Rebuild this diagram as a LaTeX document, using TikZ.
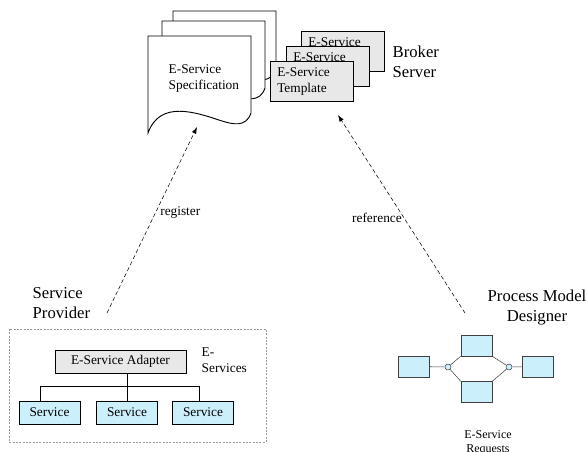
\documentclass[tikz,border=0pt]{standalone}
\usepackage{fontspec}
\setmainfont{Liberation Serif}
\usetikzlibrary{calc,arrows.meta}

\begin{document}
\begin{tikzpicture}[x=0.75pt,y=-0.75pt,font=\fontsize{10}{12}\selectfont,
    sheet/.style={draw,fill=white,line width=0.7pt},
    template/.style={draw,fill=black!9,anchor=north west,minimum width=62.25pt,
        minimum height=30pt,text width=51.75pt,inner xsep=5.25pt,align=left},
    adapter/.style={draw,fill=black!9,minimum width=98.25pt,minimum height=17.25pt,inner sep=0pt},
    service/.style={draw,fill=cyan!20,minimum width=45.75pt,minimum height=17.25pt,inner sep=0pt},
    activity/.style={draw=black!75,fill=cyan!20,minimum width=23.25pt,minimum height=15.75pt,inner sep=0pt},
    joint/.style={circle,draw=black!75,fill=cyan!20,minimum size=4.5pt,inner sep=0pt},
    flow/.style={densely dashed,-{Latex[length=5pt,width=3.5pt]},line width=0.4pt},
    big/.style={font=\fontsize{12.5}{15}\selectfont}]
        \useasboundingbox (0,0) rectangle (587,451);
            \foreach \X/\Y/\H in {173/11/58,162/21/67,148/36/77}
                {\path[sheet] (\X,\Y) -- ({\X+103},\Y) -- ({\X+103},{\Y+\H})
            .. controls ({\X+98},{\Y+\H+15}) and ({\X+84},{\Y+\H+11}) .. ({\X+74},{\Y+\H+8})
            .. controls ({\X+47},{\Y+\H-1}) and ({\X+12},{\Y+\H-13}) .. (\X,{\Y+\H+20}) -- cycle;}
            \node[anchor=west,align=left] (spec) at (164,78) {E-Service\\Specification};
            \foreach \X/\Y [count=\N] in {301/31,286/46,270/61}
                {\node[template] (T-\N) at (\X,\Y) {E-Service\\Template};}
            \node[big,anchor=west,align=left] (broker) at (388,62) {Broker\\Server};
            \node[big,anchor=west,align=left] (provider) at (28,303) {Service\\Provider};
            \draw[black!40,dash pattern=on 1.5pt off 1pt] (9,329) rectangle (266,442);
            \node[adapter] (adapter) at (120.5,361.5) {E-Service Adapter};
            \node[anchor=west,align=left] (eservices) at (197,360) {E-\\Services};
            \foreach \X [count=\N] in {49.5,127,203}
                {\node[service] (S-\N) at (\X,412.5) {Service};}
            \draw (S-2.north) -- (S-2.north |- adapter.south);
            \draw ([xshift=-7pt]S-1.north) |- ($(adapter.south)+(0,13)$) -| ([xshift=-3pt]S-3.north);
            \foreach \X/\Y [count=\N] in {414/366.5,476.5/345.5,476.5/392,538/366.5}
                {\node[activity] (P-\N) at (\X,\Y) {};}
            \node[joint] (J-1) at (448,367) {};
            \node[joint] (J-2) at (509,367) {};
            \draw[black!75] (P-1) -- (J-1) (J-1) -- (P-2.south west) (J-1) -- (P-3.north west)
                (P-2.south east) -- (J-2) (P-3.north east) -- (J-2) (J-2) -- (P-4);
            \node[big,align=center] (designer) at (537,308) {Process Model\\Designer};
            \node[font=\fontsize{9}{10.5}\selectfont,align=center] (requests) at (488,443) {E-Service\\Requests};
            \coordinate (reg-a) at (107,313);
            \coordinate (reg-b) at (197,127);
            \coordinate (ref-a) at (465,313);
            \coordinate (ref-b) at (338,115);
            \draw[flow] (reg-a) -- node[right,pos=0.54] {register} (reg-b);
            \draw[flow] (ref-a) -- node[left,pos=0.48,inner sep=1.5pt] {reference} (ref-b);
        \end{tikzpicture}
\end{document}
